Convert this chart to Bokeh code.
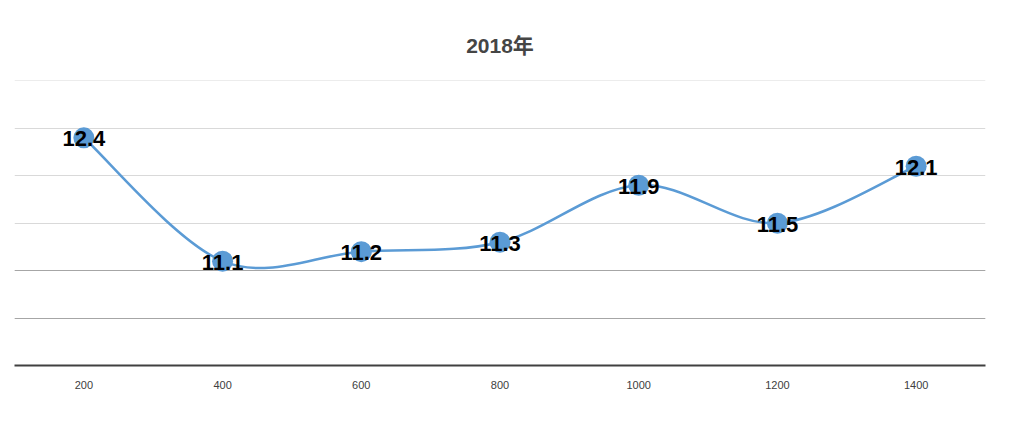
from bokeh.plotting import figure
from bokeh.models import ColumnDataSource, Range1d, FixedTicker, Grid, SingleIntervalTicker
from bokeh.core.properties import value
from bokeh.embed import file_html
from bokeh.resources import INLINE

title_text = "2018年"
categories = ["200", "400", "600", "800", "1000", "1200", "1400"]
values = [12.4, 11.1, 11.2, 11.3, 11.9, 11.5, 12.1]
label_texts = ["12.4", "11.1", "11.2", "11.3", "11.9", "11.5", "12.1"]

BLUE = "#5B9BD5"
xs = [i + 0.5 for i in range(len(categories))]

p = figure(width=1010, height=421, output_backend="svg", toolbar_location=None,
           x_range=Range1d(0, len(categories)), y_range=Range1d(10, 13.004),
           min_border_left=14, min_border_right=25, min_border_top=80, min_border_bottom=56)
p.outline_line_color = None
p.background_fill_color = "white"
p.border_fill_color = "white"

p.title.text = title_text
p.title.align = "center"
p.title.text_font = "Liberation Sans, Noto Sans CJK SC"
p.title.text_font_size = "21px"
p.title.text_font_style = "bold"
p.title.text_color = "#454545"
p.title.standoff = 47

# y axis hidden, used for grid
p.yaxis.visible = False
p.yaxis.ticker = SingleIntervalTicker(interval=0.5)
p.ygrid.grid_line_color = "#d9d9d9"
p.ygrid.grid_line_width = 1
p.xgrid.visible = False
dark = Grid(dimension=1, ticker=FixedTicker(ticks=[10.5, 11.0]), grid_line_color="#a6a6a6", grid_line_width=1)
p.add_layout(dark)

xa = p.xaxis[0]
xa.ticker = FixedTicker(ticks=xs)
xa.major_label_overrides = {x: c for x, c in zip(xs, categories)}
xa.axis_line_color = "#404040"
xa.axis_line_width = 2
xa.major_tick_line_color = None
xa.minor_tick_line_color = None
xa.major_label_text_font = "Liberation Sans"
xa.major_label_text_font_size = "11px"
xa.major_label_text_color = "#404040"
xa.major_label_standoff = 9

# smooth curve via Catmull-Rom -> cubic Bezier control points
n = len(values)
x0, y0, x1, y1, cx0, cy0, cx1, cy1 = [], [], [], [], [], [], [], []
for i in range(n - 1):
    pm = (xs[max(i - 1, 0)], values[max(i - 1, 0)])
    pa = (xs[i], values[i])
    pb = (xs[i + 1], values[i + 1])
    pn = (xs[min(i + 2, n - 1)], values[min(i + 2, n - 1)])
    x0.append(pa[0]); y0.append(pa[1]); x1.append(pb[0]); y1.append(pb[1])
    cx0.append(pa[0] + (pb[0] - pm[0]) / 6); cy0.append(pa[1] + (pb[1] - pm[1]) / 6)
    cx1.append(pb[0] - (pn[0] - pa[0]) / 6); cy1.append(pb[1] - (pn[1] - pa[1]) / 6)
bsrc = ColumnDataSource(dict(x0=x0, y0=y0, x1=x1, y1=y1, cx0=cx0, cy0=cy0, cx1=cx1, cy1=cy1))
p.bezier(x0="x0", y0="y0", x1="x1", y1="y1", cx0="cx0", cy0="cy0", cx1="cx1", cy1="cy1",
         source=bsrc, line_color=BLUE, line_width=2.5)

src = ColumnDataSource(dict(x=xs, y=values, t=label_texts))
p.scatter("x", "y", source=src, size=21, fill_color=BLUE, line_color=None)
p.text("x", "y", text="t", source=src, text_align="center", text_baseline="middle",
       text_font=value("Liberation Sans"), text_font_style="bold", text_font_size="22px",
       text_color="black", y_offset=1)

open("out.html", "w").write(file_html(p, INLINE))
